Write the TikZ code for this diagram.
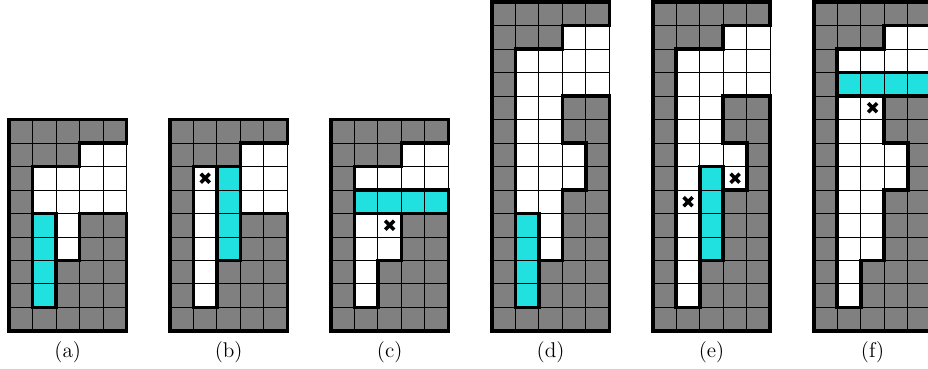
\documentclass[tikz,border=0pt]{standalone}
\definecolor{wallgray}{RGB}{128,128,128}
\definecolor{piececyan}{RGB}{32,224,224}
\tikzset{
  graycell/.style={fill=wallgray},
  freecell/.style={fill=white},
  piece/.style={fill=piececyan},
  gridthin/.style={draw=black,line width=0.55pt,step={(1,1)}},
  wall/.style={draw=black,line width=2.2pt,line join=miter,line cap=rect},
  xsign/.style={draw=black,line width=2.1pt},
  caption/.style={inner sep=0pt,font=\fontsize{12.5}{15}\selectfont}
}
\newcommand{\xat}[2]{\draw[xsign] (#1-0.19,#2-0.19) -- (#1+0.19,#2+0.19) (#1-0.19,#2+0.19) -- (#1+0.19,#2-0.19);}
\begin{document}
\begin{tikzpicture}[x=0.485cm,y=0.485cm]
\useasboundingbox (-0.383,-1.617) rectangle (39.11,14.085);

% (a)
\begin{scope}[shift={(0,0)}]
  \fill[graycell] (0,0) rectangle (5,9);
  \fill[freecell] (3,7) rectangle (5,8) (1,5) rectangle (5,7) (2,3) rectangle (3,5);
  \fill[piece] (1,1) rectangle (2,5);
  \draw[gridthin] (0,0) grid (5,9);
  \draw[wall] (5,5) -- (5,0) -- (0,0) -- (0,9) -- (5,9) -- (5,8) -- (3,8) -- (3,7) -- (1,7) -- (1,1) -- (2,1) -- (2,3) -- (3,3) -- (3,5) -- (5,5);
  \draw[wall] (1,1) rectangle (2,5);
  \node[caption] (capa) at (2.5,-0.915) {(a)};
\end{scope}

% (b)
\begin{scope}[shift={(6.85,0)}]
  \fill[graycell] (0,0) rectangle (5,9);
  \fill[freecell] (3,7) rectangle (5,8) (3,5) rectangle (5,7) (1,1) rectangle (2,7);
  \fill[piece] (2,3) rectangle (3,7);
  \draw[gridthin] (0,0) grid (5,9);
  \draw[wall] (5,5) -- (5,0) -- (0,0) -- (0,9) -- (5,9) -- (5,8) -- (3,8) -- (3,7) -- (1,7) -- (1,1) -- (2,1) -- (2,3) -- (3,3) -- (3,5) -- (5,5);
  \draw[wall] (2,3) rectangle (3,7);
  \xat{1.5}{6.5}
  \node[caption] (capb) at (2.5,-0.915) {(b)};
\end{scope}

% (c)
\begin{scope}[shift={(13.7,0)}]
  \fill[graycell] (0,0) rectangle (5,9);
  \fill[freecell] (3,7) rectangle (5,8) (1,6) rectangle (5,7) (1,3) rectangle (3,5) (1,1) rectangle (2,3);
  \fill[piece] (1,5) rectangle (5,6);
  \draw[gridthin] (0,0) grid (5,9);
  \draw[wall] (5,6) -- (5,0) -- (0,0) -- (0,9) -- (5,9) -- (5,8) -- (3,8) -- (3,7) -- (1,7) -- (1,1) -- (2,1) -- (2,3) -- (3,3) -- (3,5) -- (5,5);
  \draw[wall] (1,5) rectangle (5,6);
  \xat{2.5}{4.5}
  \node[caption] (capc) at (2.5,-0.915) {(c)};
\end{scope}

% (d)
\begin{scope}[shift={(20.55,0)}]
  \fill[graycell] (0,0) rectangle (5,14);
  \fill[freecell] (3,12) rectangle (5,13) (1,10) rectangle (5,12) (1,5) rectangle (3,10) (3,6) rectangle (4,8) (2,3) rectangle (3,5);
  \fill[piece] (1,1) rectangle (2,5);
  \draw[gridthin] (0,0) grid (5,14);
  \draw[wall] (5,10) -- (5,0) -- (0,0) -- (0,14) -- (5,14) -- (5,13) -- (3,13) -- (3,12) -- (1,12) -- (1,1) -- (2,1) -- (2,3) -- (3,3) -- (3,6) -- (4,6) -- (4,8) -- (3,8) -- (3,10) -- (5,10);
  \draw[wall] (1,1) rectangle (2,5);
  \node[caption] (capd) at (2.5,-0.915) {(d)};
\end{scope}

% (e)
\begin{scope}[shift={(27.4,0)}]
  \fill[graycell] (0,0) rectangle (5,14);
  \fill[freecell] (3,12) rectangle (5,13) (1,10) rectangle (5,12) (1,8) rectangle (3,10) (1,7) rectangle (4,8) (3,6) rectangle (4,7) (1,1) rectangle (2,7);
  \fill[piece] (2,3) rectangle (3,7);
  \draw[gridthin] (0,0) grid (5,14);
  \draw[wall] (5,10) -- (5,0) -- (0,0) -- (0,14) -- (5,14) -- (5,13) -- (3,13) -- (3,12) -- (1,12) -- (1,1) -- (2,1) -- (2,3) -- (3,3) -- (3,6) -- (4,6) -- (4,8) -- (3,8) -- (3,10) -- (5,10);
  \draw[wall] (2,3) rectangle (3,7);
  \xat{3.5}{6.5}
  \xat{1.5}{5.5}
  \node[caption] (cape) at (2.5,-0.915) {(e)};
\end{scope}

% (f)
\begin{scope}[shift={(34.25,0)}]
  \fill[graycell] (0,0) rectangle (5,14);
  \fill[freecell] (3,12) rectangle (5,13) (1,11) rectangle (5,12) (1,3) rectangle (3,10) (3,6) rectangle (4,8) (1,1) rectangle (2,3);
  \fill[piece] (1,10) rectangle (5,11);
  \draw[gridthin] (0,0) grid (5,14);
  \draw[wall] (5,11) -- (5,0) -- (0,0) -- (0,14) -- (5,14) -- (5,13) -- (3,13) -- (3,12) -- (1,12) -- (1,1) -- (2,1) -- (2,3) -- (3,3) -- (3,6) -- (4,6) -- (4,8) -- (3,8) -- (3,10) -- (5,10);
  \draw[wall] (1,10) rectangle (5,11);
  \xat{2.5}{9.5}
  \node[caption] (capf) at (2.5,-0.915) {(f)};
\end{scope}
\end{tikzpicture}
\end{document}
